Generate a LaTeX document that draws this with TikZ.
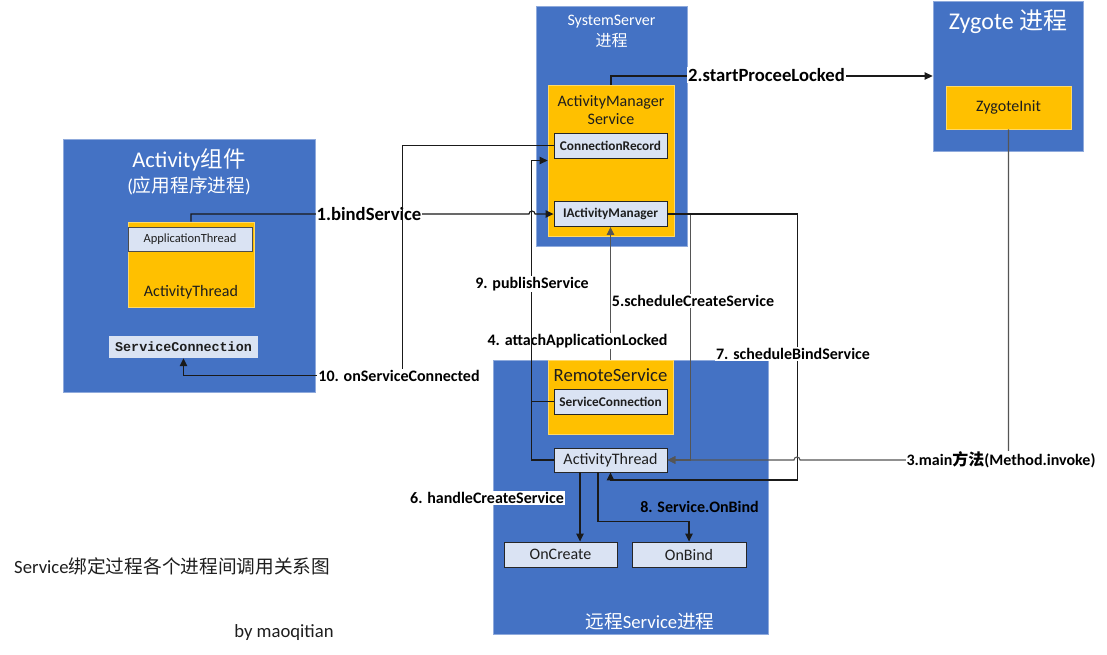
\documentclass[tikz,border=0pt]{standalone}
\usepackage{fontspec}
\setmainfont{Carlito}
\newfontfamily\cjk{Noto Sans CJK SC}
\newfontfamily\monof{Liberation Mono}
\usetikzlibrary{arrows.meta,calc}
\definecolor{pblue}{HTML}{4472C4}
\definecolor{pyel}{HTML}{FFC000}
\definecolor{plight}{HTML}{DAE3F3}
\definecolor{pedge}{HTML}{8FAADC}
\definecolor{yedge}{HTML}{FFD966}
\definecolor{dline}{HTML}{1A1A1A}
\definecolor{gline}{HTML}{555555}
\definecolor{txt}{HTML}{1E1E1E}
\newcommand\fsz[2]{\fontsize{#1}{#2}\selectfont}
\begin{document}
\begin{tikzpicture}[x=1pt,y=-1pt,
  procbox/.style={draw=pedge,line width=0.8pt,fill=pblue,inner sep=0pt},
  ybox/.style={draw=yedge,line width=0.8pt,fill=pyel,inner sep=0pt,text=txt},
  lbox/.style={draw=black!85,line width=0.9pt,fill=plight,inner sep=0pt,text=txt,
    minimum width=113pt,minimum height=25pt,font=\fsz{13.3}{15}\bfseries},
  lbl/.style={fill=white,inner sep=1pt,text=black,font=\fsz{16}{18}\bfseries},
  ttl/.style={text=white,inner sep=0pt,align=center},
  plain/.style={inner sep=0pt,text=txt,align=center},
  ln/.style={draw=dline,line width=1.1pt},
  arr/.style={draw=dline,line width=1.1pt,-{Triangle[length=8pt,width=7.5pt]}},
  garr/.style={draw=gline,line width=1.1pt,-{Triangle[length=8pt,width=7.5pt]}}
]
\useasboundingbox (0,0) rectangle (1107,654);
\fill[white] (0,0) rectangle (1107,654);

% ---------- SystemServer ----------
\node[procbox,minimum width=151pt,minimum height=240pt] (ss) at (611.5,126) {};
\node[ttl,font=\fsz{16}{21}] (sst) at (611.5,31) {SystemServer\\{\cjk 进程}};
\node[ybox,minimum width=126pt,minimum height=151pt] (ams) at (611,160.5) {};
\node[plain,font=\fsz{16}{18}] (amst) at (611,110) {ActivityManager\\Service};
\node[lbox] (cr) at (610.5,145.5) {ConnectionRecord};
\node[lbox] (iam) at (610.5,214) {IActivityManager};

% ---------- Zygote ----------
\node[procbox,minimum width=150pt,minimum height=150pt] (zyg) at (1008,76) {};
\node[ttl,font=\fsz{24}{28}] (zygt) at (1008,22) {Zygote {\cjk 进程}};
\node[ybox,minimum width=125pt,minimum height=43pt,font=\fsz{16}{18}] (zi) at (1008.5,107.5) {ZygoteInit};

% ---------- Activity ----------
\node[procbox,minimum width=252pt,minimum height=253pt] (act) at (189,265.5) {};
\node[ttl,font=\fsz{22.5}{26}] (actt) at (189,160) {Activity{\cjk 组件}};
\node[ttl,font=\fsz{18.67}{22}] (acts) at (189,186) {({\cjk 应用程序进程})};
\node[ybox,minimum width=126pt,minimum height=85pt] (aty) at (191,264.5) {};
\node[plain,font=\fsz{16}{18}] (atyt) at (191,292) {ActivityThread};
\node[draw=black!70,line width=0.6pt,fill=plight,minimum width=124pt,minimum height=24pt,
  inner sep=0pt,text=txt,font=\fsz{12.5}{14}] (appt) at (190,239) {ApplicationThread};
\node[fill=plight,minimum width=149pt,minimum height=22pt,inner sep=0pt,text=txt,
  font=\monof\fsz{13.4}{15}\bfseries] (sc1) at (183.5,347) {ServiceConnection};

% ---------- Remote Service ----------
\node[procbox,minimum width=275pt,minimum height=274pt] (rs) at (630.5,497) {};
\node[ybox,minimum width=125pt,minimum height=74pt] (rsy) at (610.5,397) {};
\node[plain,font=\fsz{18.67}{22}] (rsyt) at (610.5,375) {RemoteService};
\node[lbox] (sc2) at (610.5,401.5) {ServiceConnection};
\node[lbox,minimum height=24pt,font=\fsz{16}{18}] (at) at (610.5,460) {ActivityThread};
\node[lbox,font=\fsz{16}{18}] (oc) at (560.5,554.5) {OnCreate};
\node[lbox,minimum width=114pt,font=\fsz{16}{18}] (ob) at (689,554.5) {OnBind};
\node[ttl,font=\fsz{18.67}{22}] (rst) at (650,622) {{\cjk 远程}Service{\cjk 进程}};

% ---------- free texts ----------
\node[anchor=west,plain,font=\fsz{18.67}{22}] (cap) at (14,566) {Service{\cjk 绑定过程各个进程间调用关系图}};
\node[plain,font=\fsz{18.67}{22}] (by) at (284,633) {by maoqitian};

% ---------- connectors ----------
% 4 attachApplicationLocked
\draw[garr] (rsy.north) -- (iam.south);
\node[lbl] (l4) at (577.5,341) {4. attachApplicationLocked};
% 5 scheduleCreateService
\draw[garr] (iam.east) -- ++(23,0) |- (at.east);
\node[lbl] (l5) at (693,301) {5.scheduleCreateService};
% 7 scheduleBindService
\draw[arr] (iam.east) -- ++(130,0) -- ++(0,266) -| (at.south);
\node[lbl] (l7) at (793,354) {7. scheduleBindService};
% 3 main
\draw[garr] (zi.south) -- (zi.south |- at.east) -- (800,460)
  arc[start angle=0,end angle=180,radius=3pt] -- (at.east);
\node[lbl] (l3) at (1001,460) {3.main{\cjk 方法}(Method.invoke)};
% 2 startProceeLocked
\draw[arr] (ams.north) -- (ams.north |- zyg.west) -- (zyg.west);
\node[lbl,font=\fsz{18.67}{22}\bfseries] (l2) at (766.5,75) {2.startProceeLocked};
% 1 bindService
\draw[arr] (aty.north) -- (aty.north |- iam.west) -- (529,214)
  arc[start angle=180,end angle=0,radius=3pt] -- (iam.west);
\node[lbl,font=\fsz{18.67}{22}\bfseries] (l1) at (369,214) {1.bindService};
% 10 onServiceConnected
\draw[arr] (cr.west) -- ++(-151,0) -- ++(0,230) -| (sc1.south);
\node[lbl] (l10) at (399,376) {10. onServiceConnected};
% 9 publishService
\draw[ln] (sc2.west) -- ++(-22,0);
\draw[arr] (at.west) -- ++(-22,0) |- (ams.west);
\node[lbl] (l9) at (532,284) {9. publishService};
% 6 handleCreateService
\coordinate (p6) at ([xshift=-30.5pt]at.south);
\draw[arr] (p6) -- (p6 |- oc.north);
\node[lbl] (l6) at (487,498) {6. handleCreateService};
% 8 Service.OnBind
\coordinate (p8) at ([xshift=-12.5pt]at.south);
\draw[arr] (p8) -- ++(0,49) -| (ob.north);
\node[lbl,fill=none,text=black] (l8) at (699.5,507) {8. Service.OnBind};
\end{tikzpicture}
\end{document}
